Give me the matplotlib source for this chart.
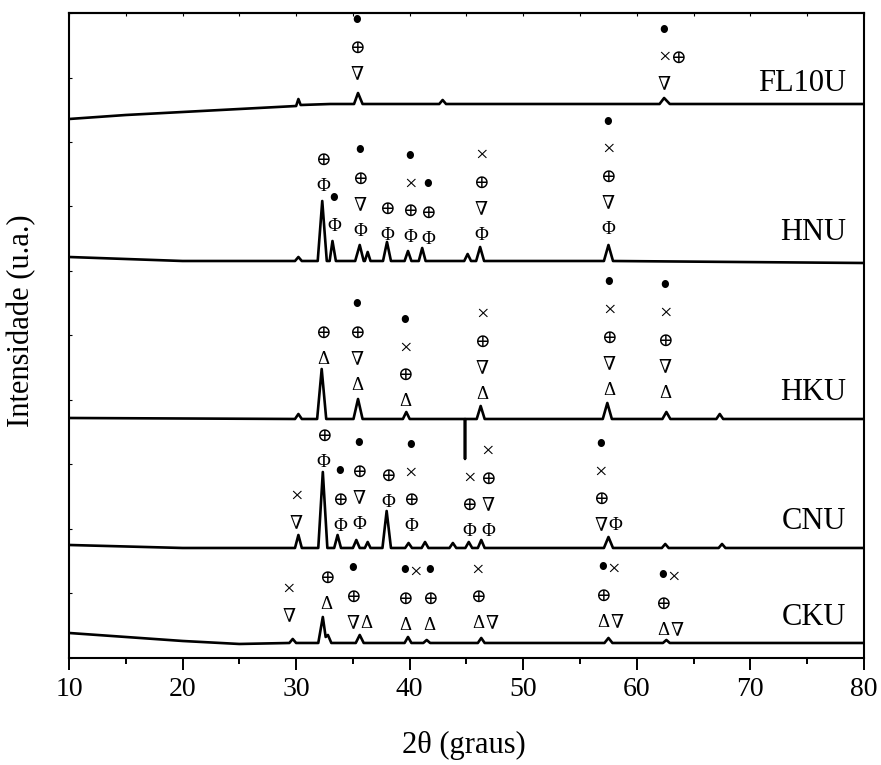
"""Stacked XRD patterns of the FL10U, HNU, HKU, CNU and CKU samples."""

import matplotlib

matplotlib.use("Agg")
import matplotlib.pyplot as plt
from matplotlib.ticker import MultipleLocator

plt.rcParams["font.family"] = ["Liberation Serif", "DejaVu Serif", "DejaVu Sans"]

samples = ["FL10U", "HNU", "HKU", "CNU", "CKU"]

# pattern vertices: 2θ (degrees) and intensity above each baseline (a.u.)
fl10u_2theta = [10, 15, 20, 25, 30.0, 30.2, 30.4, 33.0, 35.1, 35.45, 35.85,
                42.6, 42.9, 43.2, 62.0, 62.4, 62.9, 80]
fl10u_counts = [-15, -11, -8, -5, -2, 5, -1, 0, 0, 11, 0,
                0, 4, 0, 0, 6, 0, 0]

hnu_2theta = [10, 20, 29.9, 30.2, 30.5, 31.9, 32.3, 32.7, 32.95, 33.2, 33.5,
              35.2, 35.6, 35.95, 36.05, 36.3, 36.55, 37.65, 38.0, 38.35,
              39.55, 39.85, 40.15, 40.8, 41.1, 41.4, 44.8, 45.1, 45.4,
              45.85, 46.2, 46.55, 57.1, 57.5, 57.9, 80]
hnu_counts = [4, 0, 0, 4, 0, 0, 60, 0, 0, 20, 0,
              0, 16, 0, 0, 9, 0, 0, 19, 0,
              0, 10, 0, 0, 13, 0, 0, 7, 0,
              0, 14, 0, 0, 16, 0, -2]

hku_2theta = [10, 29.9, 30.2, 30.5, 31.85, 32.25, 32.65, 35.05, 35.45, 35.85,
              39.4, 39.7, 40.0, 44.85, 44.87, 44.89, 45.9, 46.25, 46.6,
              57.0, 57.4, 57.8, 62.25, 62.6, 62.95, 67.0, 67.3, 67.6, 80]
hku_counts = [1, 0, 5, 0, 0, 50, 0, 0, 20, 0,
              0, 7, 0, 0, -40, 0, 0, 13, 0,
              0, 16, 0, 0, 7, 0, 0, 5, 0, 0]

cnu_2theta = [10, 20, 29.9, 30.2, 30.5, 31.95, 32.35, 32.75, 33.35, 33.65, 33.95,
              35.0, 35.3, 35.6, 36.05, 36.3, 36.55, 37.6, 37.97, 38.35,
              39.6, 39.9, 40.2, 41.05, 41.35, 41.65, 43.5, 43.8, 44.1,
              44.9, 45.2, 45.5, 46.0, 46.3, 46.6, 57.1, 57.5, 57.9,
              62.2, 62.5, 62.8, 67.2, 67.5, 67.8, 80]
cnu_counts = [3, 0, 0, 13, 0, 0, 76, 0, 0, 13, 0,
              0, 8, 0, 0, 6, 0, 0, 37, 0,
              0, 5, 0, 0, 6, 0, 0, 5, 0,
              0, 6, 0, 0, 8, 0, 0, 11, 0,
              0, 4, 0, 0, 4, 0, 0]

cku_2theta = [10, 15, 20, 25, 29.4, 29.7, 30.0, 31.95, 32.35, 32.6, 32.8, 33.1,
              35.25, 35.6, 35.95, 39.55, 39.85, 40.15, 41.2, 41.5, 41.8,
              46.0, 46.3, 46.6, 57.15, 57.5, 57.85, 62.3, 62.6, 62.9, 80]
cku_counts = [10, 6, 2, -1, 0, 4, 0, 0, 26, 6, 8, 0,
              0, 8, 0, 0, 6, 0, 0, 3, 0,
              0, 5, 0, 0, 5, 0, 0, 3, 0, 0]

# phase markers: (2θ, height of lowest symbol above baseline, symbols top -> bottom)
fl10u_marks = [
    (35.36, 29, ["•", "⊕", "∇"]),
    (62.39, 19, ["•", "×⊕", "∇"]),
]
hnu_marks = [
    (32.36, 74, ["⊕", "Φ"]),
    (33.33, 34, ["•", "Φ"]),
    (35.62, 29, ["•", "⊕", "∇", "Φ"]),
    (38.00, 25, ["⊕", "Φ"]),
    (40.03, 23, ["•", "×", "⊕", "Φ"]),
    (41.61, 21, ["•", "⊕", "Φ"]),
    (46.28, 25, ["×", "⊕", "∇", "Φ"]),
    (57.46, 31, ["•", "×", "⊕", "∇", "Φ"]),
]
hku_marks = [
    (32.36, 59, ["⊕", "Δ"]),
    (35.36, 33, ["•", "⊕", "∇", "Δ"]),
    (39.59, 17, ["•", "×", "⊕", "Δ"]),
    (46.37, 24, ["×", "⊕", "∇", "Δ"]),
    (57.55, 28, ["•", "×", "⊕", "∇", "Δ"]),
    (62.48, 25, ["•", "×", "⊕", "∇", "Δ"]),
]
cnu_marks = [
    (30.03, 24, ["×", "∇"]),
    (32.41, 85, ["⊕", "Φ"]),
    (33.86, 21, ["•", "⊕", "Φ"]),
    (35.53, 23, ["•", "⊕", "∇", "Φ"]),
    (38.09, 45, ["⊕", "Φ"]),
    (40.11, 21, ["•", "×", "⊕", "Φ"]),
    (45.22, 16, ["×", "⊕", "Φ"]),
    (46.89, 16, ["×", "⊕", "∇", "Φ"]),
    (56.84, 22, ["•", "×", "⊕", "∇Φ"]),
]
cku_marks = [
    (29.37, 26, ["×", "∇"]),
    (32.67, 38, ["⊕", "Δ"]),
    (35.00, 19, ["•", "⊕", "∇Δ"]),
    (39.59, 17, ["•×", "⊕", "Δ"]),
    (41.74, 17, ["•", "⊕", "Δ"]),
    (46.01, 19, ["×", "⊕", "Δ∇"]),
    (57.02, 20, ["•×", "⊕", "Δ∇"]),
    (62.30, 12, ["•×", "⊕", "Δ∇"]),
]

patterns = [
    (fl10u_2theta, fl10u_counts, fl10u_marks),
    (hnu_2theta, hnu_counts, hnu_marks),
    (hku_2theta, hku_counts, hku_marks),
    (cnu_2theta, cnu_counts, cnu_marks),
    (cku_2theta, cku_counts, cku_marks),
]

# vertical stacking of the patterns and where each name sits
offsets = [554, 397, 239, 110, 15]
name_lift = [21, 28, 26, 26, 25]
row_step = 26.5

# glyph sizes for the phase symbols, and horizontal advance inside a pair
glyph_size = {"•": 22, "×": 16}
glyph_advance = {"•": 7.5}


def main() -> None:
    fig = plt.figure(figsize=(8.81, 7.65), dpi=100)
    ax = fig.add_axes([0.0783, 0.1399, 0.9024, 0.8431])

    for name, (two_theta, counts, marks), offset, lift in zip(
        samples, patterns, offsets, name_lift
    ):
        shifted = [c + offset for c in counts]
        ax.plot(two_theta, shifted, color="black", linewidth=1.9)

        for x, base, symbols in marks:
            for row, sym in enumerate(reversed(symbols)):
                y = offset + base + row * row_step
                dx = 0.0
                for glyph in sym:
                    ax.annotate(
                        glyph, (x, y), xytext=(dx, 0),
                        textcoords="offset points",
                        ha="center", va="center",
                        fontsize=glyph_size.get(glyph, 13.5),
                    )
                    dx += glyph_advance.get(glyph, 10)

        ax.text(78.4, offset + lift, name, ha="right", va="center", fontsize=22)

    ax.set_xlim(10, 80)
    ax.set_ylim(0, 645)

    ax.xaxis.set_major_locator(MultipleLocator(10))
    ax.xaxis.set_minor_locator(MultipleLocator(5))
    ax.tick_params(axis="x", which="major", direction="out", length=8.5,
                   width=1.4, labelsize=20, pad=5)
    ax.tick_params(axis="x", which="minor", direction="out", length=4.5,
                   width=1.4)

    ax.yaxis.set_major_locator(MultipleLocator(64.5))
    ax.tick_params(axis="y", direction="in", left=True, right=False,
                   labelleft=False, length=2.5, width=0.8)

    top = ax.secondary_xaxis("top")
    top.xaxis.set_major_locator(MultipleLocator(5))
    top.tick_params(direction="in", length=2.5, width=0.8, labeltop=False)
    top.spines["top"].set_linewidth(1.5)

    for spine in ax.spines.values():
        spine.set_linewidth(1.5)

    fig.text(0.5267, 1 - 745 / 765, "2θ (graus)", ha="center", va="center",
             fontsize=22)
    fig.text(22 / 881, 1 - 321 / 765, "Intensidade (u.a.)", ha="center",
             va="center", rotation=90, fontsize=22)

    fig.savefig("out.png", dpi=100)
    plt.close(fig)


if __name__ == "__main__":
    main()
